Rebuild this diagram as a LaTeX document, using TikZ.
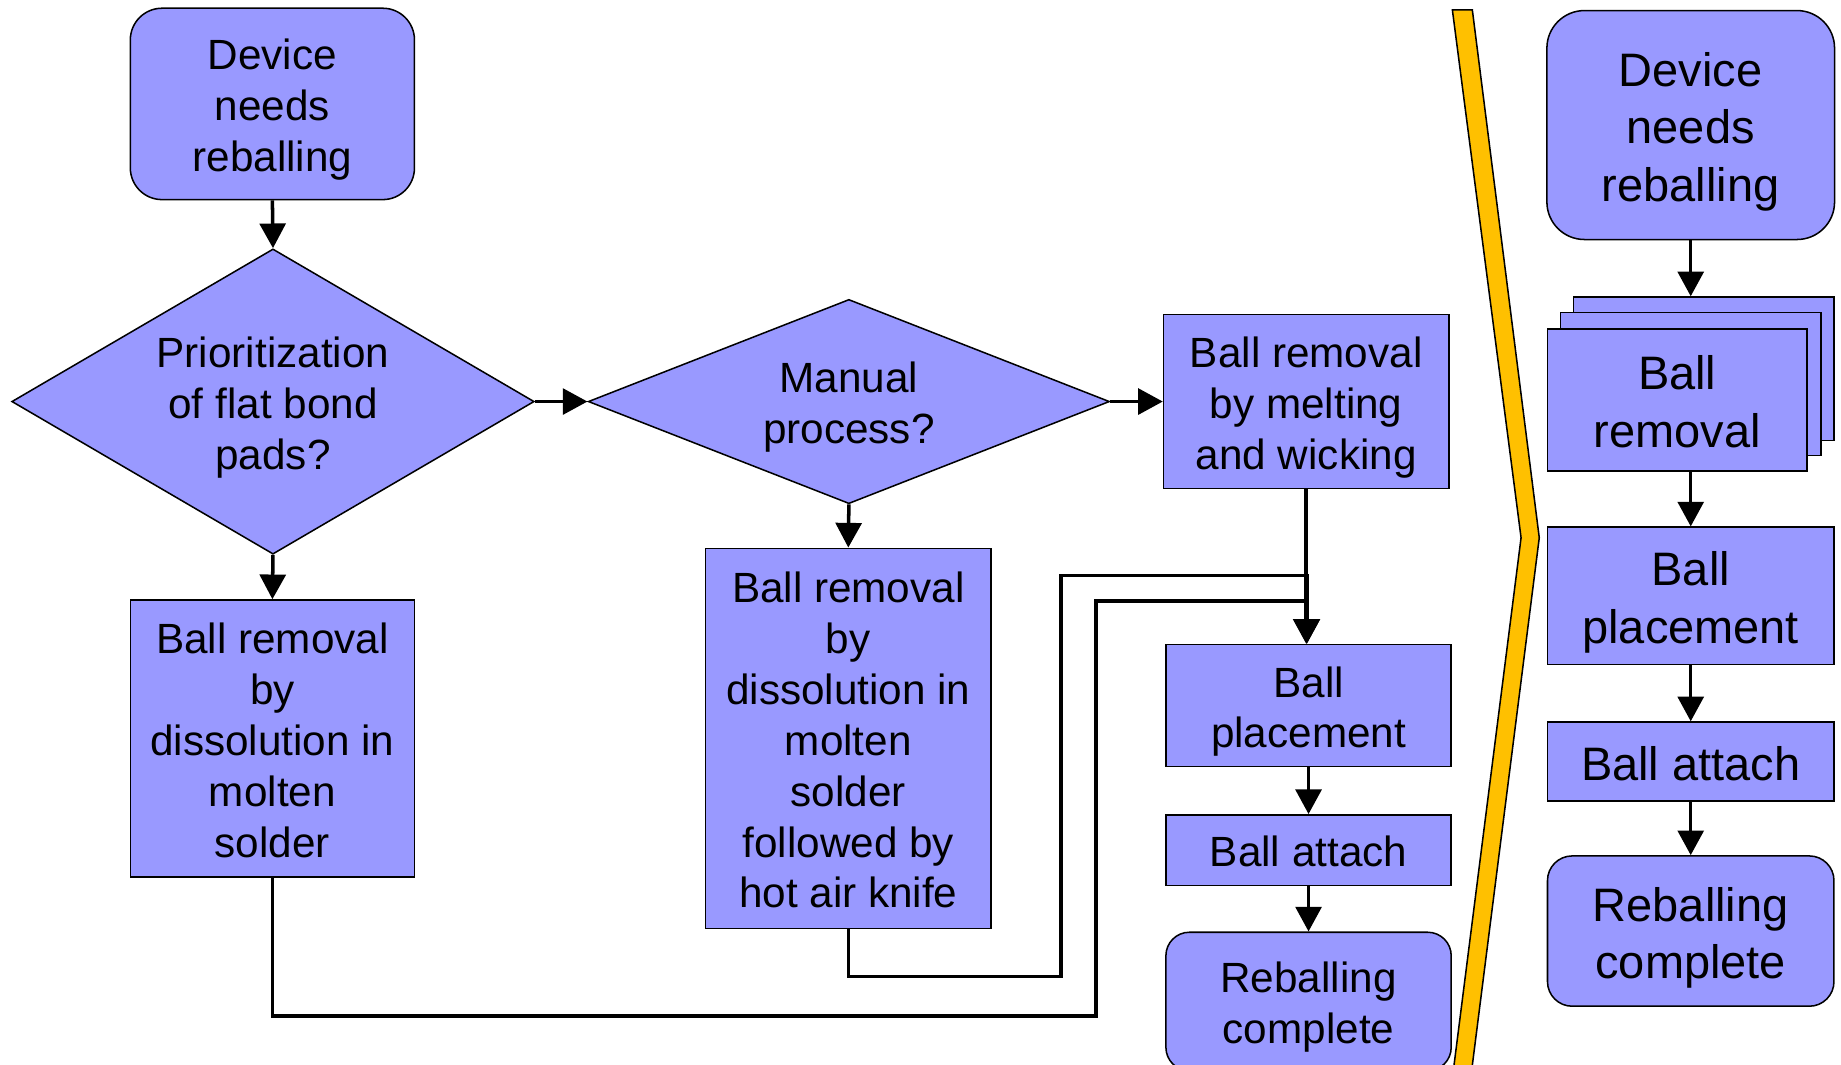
\documentclass[tikz,border=0pt]{standalone}
\usepackage{fontspec}
\setmainfont{Liberation Sans}
\usetikzlibrary{arrows.meta,shapes.geometric}
\definecolor{boxfill}{HTML}{9999FF}
\definecolor{baryellow}{HTML}{FFC000}
\newcommand\topstrutx{\rule{0pt}{1.01em}}
\newcommand\botstrutx{\rule[-0.212em]{0pt}{0.212em}}
\begin{document}
\begin{tikzpicture}[x=1pt,y=-1pt,
  shapebase/.style={draw=black, line width=1.3pt, fill=boxfill, inner sep=0pt, align=center},
  lbox/.style={shapebase, font=\fontsize{36}{43.3}\selectfont},
  rbox/.style={shapebase, font=\fontsize{40}{49}\selectfont},
  dia/.style={lbox, shape=diamond},
  conn/.style={line width=3pt, -{Triangle[width=22pt,length=21pt]}},
  bar/.style={draw=black, line width=1.3pt, fill=baryellow, line join=miter}
]
\useasboundingbox (0,0) rectangle (1568,907);
\clip (0,0) rectangle (1568,907);

% left flow
\node[lbox, minimum width=242pt, minimum height=163pt, rounded corners=27pt] (d1) at (232,88.5) {\topstrutx Device\\needs\\reballing\botstrutx};
\node[dia, minimum width=445pt, minimum height=260pt, aspect=1.71] (q1) at (232.5,342) {\topstrutx Prioritization\\of flat bond\\pads?\botstrutx};
\node[lbox, minimum width=242pt, minimum height=236pt] (b1) at (232,629) {\topstrutx Ball removal\\by\\dissolution in\\molten\\solder\botstrutx};
\node[dia, minimum width=444pt, minimum height=174pt, aspect=2.55] (q2) at (723,342) {\topstrutx Manual\\process?\botstrutx};
\node[lbox, minimum width=243pt, minimum height=324pt] (b2) at (722.5,629) {\topstrutx Ball removal\\by\\dissolution in\\molten\\solder\\followed by\\hot air knife\botstrutx};
\node[lbox, minimum width=243pt, minimum height=148pt] (b3) at (1112.5,342) {\topstrutx Ball removal\\by melting\\and wicking\botstrutx};
\node[lbox, minimum width=243pt, minimum height=104pt] (p) at (1114.5,601) {\topstrutx Ball\\placement\botstrutx};
\node[lbox, minimum width=243pt, minimum height=60pt] (a) at (1114.5,724) {\topstrutx Ball attach\botstrutx};
\node[lbox, minimum width=243pt, minimum height=118pt, rounded corners=20pt] (r) at (1114.5,853) {\topstrutx Reballing\\complete\botstrutx};

\coordinate (k1) at (903.5,831.5);
\coordinate (k2) at (933.5,865.5);
\coordinate (h1) at (1113,490);
\coordinate (h2) at (1113,512);

\draw[conn] (d1.south) -- (q1.north);
\draw[conn] (q1.south) -- (b1.north);
\draw[conn] (q1.east) -- (q2.west);
\draw[conn] (q2.east) -- (b3.west);
\draw[conn] (q2.south) -- (b2.north);
\draw[conn] (b3.south) -- (b3.south |- p.north);
\draw[conn] (b2.south) |- (k1) |- (h1) -- (h1 |- p.north);
\draw[conn] (b1.south) |- (k2) |- (h2) -- (h2 |- p.north);
\draw[conn] (p.south) -- (a.north);
\draw[conn] (a.south) -- (r.north);

% separator bar
\filldraw[bar] (1237,8.5) -- (1254,8.5) -- (1311,458) -- (1253,915) -- (1237.4,915) -- (1295.5,458) -- cycle;

% right flow
\node[rbox, minimum width=245pt, minimum height=195pt, rounded corners=32pt] (rd) at (1440,106.5) {\topstrutx Device\\needs\\reballing\botstrutx};
\node[rbox, minimum width=222pt, minimum height=122pt] (sback) at (1451,314) {};
\node[rbox, minimum width=222pt, minimum height=122pt] (smid) at (1440,327) {};
\node[rbox, minimum width=221pt, minimum height=121pt] (sfront) at (1428.5,340.5) {\topstrutx Ball\\removal\botstrutx};
\node[rbox, minimum width=244pt, minimum height=117pt] (rp) at (1440,507.5) {\topstrutx Ball\\placement\botstrutx};
\node[rbox, minimum width=244pt, minimum height=67pt] (ra) at (1440,648.5) {\topstrutx Ball attach\botstrutx};
\node[rbox, minimum width=244pt, minimum height=128pt, rounded corners=21pt] (rr) at (1440,793) {\topstrutx Reballing\\complete\botstrutx};

\draw[conn] (rd.south) -- (rd.south |- sback.north);
\draw[conn] (rp.north |- sfront.south) -- (rp.north);
\draw[conn] (rp.south) -- (ra.north);
\draw[conn] (ra.south) -- (rr.north);
\end{tikzpicture}
\end{document}
